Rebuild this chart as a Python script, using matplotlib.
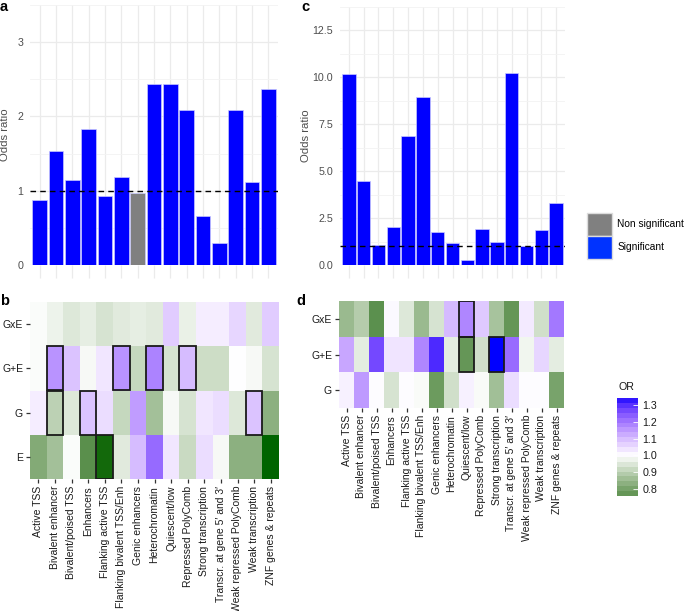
import numpy as np
import matplotlib
matplotlib.use("Agg")
import matplotlib.pyplot as plt
from matplotlib.colors import ListedColormap, Normalize
from matplotlib.patches import Patch, Rectangle
import matplotlib.cm as cm

plt.rcParams["font.family"] = ["Liberation Sans", "DejaVu Sans"]

STATES = ["Active TSS", "Bivalent enhancer", "Bivalent/poised TSS", "Enhancers",
          "Flanking active TSS", "Flanking bivalent TSS/Enh", "Genic enhancers",
          "Heterochromatin", "Quiescent/low", "Repressed PolyComb", "Strong transcription",
          "Transcr. at gene 5\u2032 and 3\u2032", "Weak repressed PolyComb",
          "Weak transcription", "ZNF genes & repeats"]

# panel a / c: odds ratios
OR_A = [0.87, 1.54, 1.14, 1.83, 0.93, 1.18, 0.97, 2.43, 2.44, 2.08, 0.66, 0.29, 2.08, 1.12, 2.37]
SIG_A = [1, 1, 1, 1, 1, 1, 0, 1, 1, 1, 1, 1, 1, 1, 1]
OR_C = [10.15, 4.49, 1.06, 2.04, 6.88, 8.94, 1.75, 1.17, 0.245, 1.94, 1.22, 10.2, 1.01, 1.84, 3.31]
SIG_C = [1] * 15

# panel b / d: heatmap OR, rows top to bottom
ROWS_B = ["GxE", "G+E", "G", "E"]
B_GXE = [0.995, 0.98, 0.96, 0.97, 0.95, 0.965, 0.97, 0.965, 1.06, 0.975, 1.02, 1.02, 1.05, 0.965, 1.06]
B_GPE = [0.995, 1.13, 1.07, 0.99, 1.03, 1.13, 0.93, 1.15, 0.95, 1.08, 0.94, 0.94, 1.0, 0.99, 0.95]
B_G = [1.02, 0.92, 0.96, 1.07, 1.04, 0.93, 1.12, 0.89, 0.99, 0.95, 1.03, 1.04, 0.96, 1.07, 0.86]
B_E = [0.85, 0.89, 0.995, 0.80, 0.73, 0.965, 1.08, 1.18, 1.03, 0.935, 1.04, 0.99, 0.86, 0.86, 0.72]
BOX_B = [(1, 1), (1, 5), (1, 7), (1, 9), (2, 1), (2, 3), (2, 13), (3, 4)]

ROWS_D = ["GxE", "G+E", "G"]
D_GXE = [0.85, 0.89, 0.755, 1.01, 0.95, 0.85, 0.94, 1.10, 1.18, 1.08, 0.87, 0.77, 1.03, 0.93, 1.20]
D_GPE = [1.13, 0.96, 1.27, 1.04, 1.04, 1.18, 1.31, 0.96, 0.77, 0.93, 1.345, 1.22, 0.98, 1.06, 0.96]
D_G = [1.02, 1.15, 1.005, 0.94, 1.005, 0.99, 0.78, 0.93, 1.02, 0.99, 0.86, 1.05, 1.005, 1.005, 0.80]
BOX_D = [(0, 8), (1, 8), (1, 10)]


# ggplot-like gradient2 (darkgreen - white - blue) interpolated in CIELAB
def srgb2lab(c):
    c = np.asarray(c, float)
    lin = np.where(c <= 0.04045, c / 12.92, ((c + 0.055) / 1.055) ** 2.4)
    M = np.array([[0.4124, 0.3576, 0.1805], [0.2126, 0.7152, 0.0722], [0.0193, 0.1192, 0.9505]])
    xyz = M @ lin / np.array([0.95047, 1.0, 1.08883])
    f = np.where(xyz > 0.008856, np.cbrt(xyz), 7.787 * xyz + 16 / 116)
    return np.array([116 * f[1] - 16, 500 * (f[0] - f[1]), 200 * (f[1] - f[2])])

def lab2srgb(lab):
    L, a, b = lab
    fy = (L + 16) / 116; fx = fy + a / 500; fz = fy - b / 200
    f = np.array([fx, fy, fz])
    xyz = np.where(f > 0.2069, f ** 3, (f - 16 / 116) / 7.787) * np.array([0.95047, 1.0, 1.08883])
    Mi = np.array([[3.2406, -1.5372, -0.4986], [-0.9689, 1.8758, 0.0415], [0.0557, -0.2040, 1.0570]])
    lin = np.clip(Mi @ xyz, 0, 1)
    return np.clip(np.where(lin <= 0.0031308, 12.92 * lin, 1.055 * lin ** (1 / 2.4) - 0.055), 0, 1)

low, mid, high = srgb2lab([0, 100 / 255, 0]), srgb2lab([1, 1, 1]), srgb2lab([0, 0, 1])
cols = []
for t in np.linspace(0, 1, 256):
    if t < 0.5:
        lab = mid + (0.5 - t) * 2 * (low - mid)
    else:
        lab = mid + (t - 0.5) * 2 * (high - mid)
    cols.append(lab2srgb(lab))
CMAP = ListedColormap(cols)

W, H = 685, 611
fig = plt.figure(figsize=(W / 100, H / 100), dpi=100)

def rect(l, t, r, b):
    return [l / W, 1 - b / H, (r - l) / W, (b - t) / H]

GRID = "#ebebeb"
TXT = "#4d4d4d"
FS = 7.2


def bars(ax, vals, sig, ymax, yticks, ylabels):
    x = np.arange(len(vals))
    colors = ["#0000ff" if s else "#808080" for s in sig]
    ax.set_axisbelow(True)
    ax.bar(x, vals, width=0.9, color=colors, edgecolor="#c8c8ff", linewidth=0.5)
    ax.axhline(1, color="black", ls=(0, (4, 3)), lw=1.0)
    ax.set_xlim(-0.6, len(vals) - 0.4)
    ax.set_ylim(0, ymax)
    ax.set_yticks(yticks)
    ax.set_yticklabels(ylabels)
    ax.set_yticks([(a + b) / 2 for a, b in zip(yticks[:-1], yticks[1:])] + [yticks[-1] + (yticks[1] - yticks[0]) / 2], minor=True)
    ax.set_xticks(x)
    ax.set_xticklabels([])
    ax.grid(True, which="major", color=GRID, lw=0.9)
    ax.grid(True, which="minor", axis="y", color="#f3f3f3", lw=0.6)
    for s in ax.spines.values():
        s.set_visible(False)
    ax.tick_params(axis="y", which="both", length=0, pad=5, labelsize=FS + 0.5, labelcolor=TXT)
    ax.tick_params(axis="x", length=9, color=GRID, width=0.9, pad=0)
    ax.set_ylabel("Odds ratio", fontsize=FS + 1, color=TXT)


ax_a = fig.add_axes(rect(30, 5, 278, 265))
bars(ax_a, OR_A, SIG_A, 3.14, [0, 1, 2, 3], ["0", "1", "2", "3"])
ax_a.yaxis.set_label_coords(-0.08, 0.5)

ax_c = fig.add_axes(rect(340, 6.5, 565, 265))
bars(ax_c, OR_C, SIG_C, 12.63, [0, 2.5, 5, 7.5, 10, 12.5], ["0.0", "2.5", "5.0", "7.5", "10.0", "12.5"])
ax_c.yaxis.set_label_coords(-0.13, 0.5)

leg = fig.legend(handles=[Patch(facecolor="#808080", edgecolor="#dcdcdc", label="Non significant"),
                          Patch(facecolor="#0033ff", edgecolor="#dcdcdc", label="Significant")],
                 loc="upper left", bbox_to_anchor=(585 / W, 1 - 211 / H), frameon=False,
                 fontsize=FS + 0.1, handlelength=2.45, handleheight=3.1, handletextpad=0.55,
                 labelspacing=0.0, borderaxespad=0, borderpad=0.2)


def heat(ax, rows, rowlabels, boxes):
    data = np.array(rows)
    dev = np.max(np.abs(data - 1))
    norm = Normalize(1 - dev, 1 + dev)
    ax.pcolormesh(np.arange(data.shape[1] + 1) - 0.5, np.arange(data.shape[0] + 1) - 0.5, data,
                  cmap=CMAP, norm=norm, edgecolors="none")
    for r, c in boxes:
        ax.add_patch(Rectangle((c - 0.5, r - 0.5), 1, 1, fill=False, edgecolor="#1a1a1a", lw=1.3))
    ax.set_xlim(-0.5, data.shape[1] - 0.5)
    ax.set_ylim(data.shape[0] - 0.5, -0.5)
    ax.set_xticks(np.arange(data.shape[1]))
    ax.set_xticklabels(STATES, rotation=90, fontsize=FS + 0.3, color="#1a1a1a")
    ax.set_yticks(np.arange(data.shape[0]))
    ax.set_yticklabels(rowlabels, fontsize=FS + 0.3, color="#1a1a1a")
    ax.tick_params(length=3, width=0.9, color="#333333", pad=2)
    for s in ax.spines.values():
        s.set_visible(False)
    return data, norm


ax_b = fig.add_axes(rect(30, 302, 279, 479))
heat(ax_b, [B_GXE, B_GPE, B_G, B_E], ROWS_B, BOX_B)

ax_d = fig.add_axes(rect(339, 301, 564, 408))
data_d, norm_d = heat(ax_d, [D_GXE, D_GPE, D_G], ROWS_D, BOX_D)

# binned colour bar like ggplot's guide_colourbar
dmin, dmax = data_d.min(), data_d.max()
centers = dmin + (np.arange(20) + 0.5) * (dmax - dmin) / 20
cb_cmap = ListedColormap([CMAP(norm_d(v)) for v in centers])
cax = fig.add_axes(rect(617, 398, 638, 496))
cb = fig.colorbar(cm.ScalarMappable(norm=Normalize(dmin, dmax), cmap=cb_cmap), cax=cax)
cb.outline.set_visible(False)
cb.set_ticks([0.8, 0.9, 1.0, 1.1, 1.2, 1.3])
cb.set_ticklabels(["0.8", "0.9", "1.0", "1.1", "1.2", "1.3"])
cax.tick_params(length=3.5, width=0.6, color="white", direction="in", labelsize=FS + 0.5,
                labelcolor="#1a1a1a", pad=3)
cax.text(0.05, 1.06, "OR", transform=cax.transAxes, fontsize=FS + 0.5, color="#1a1a1a",
         ha="left", va="bottom")

for lab, x, y in [("a", 0, 0), ("c", 301, 0), ("b", 0, 294), ("d", 296, 294)]:
    fig.text(x / W, 1 - y / H, lab, fontsize=10.5, fontweight="bold", va="top", ha="left")

fig.savefig("out.png", dpi=100)
